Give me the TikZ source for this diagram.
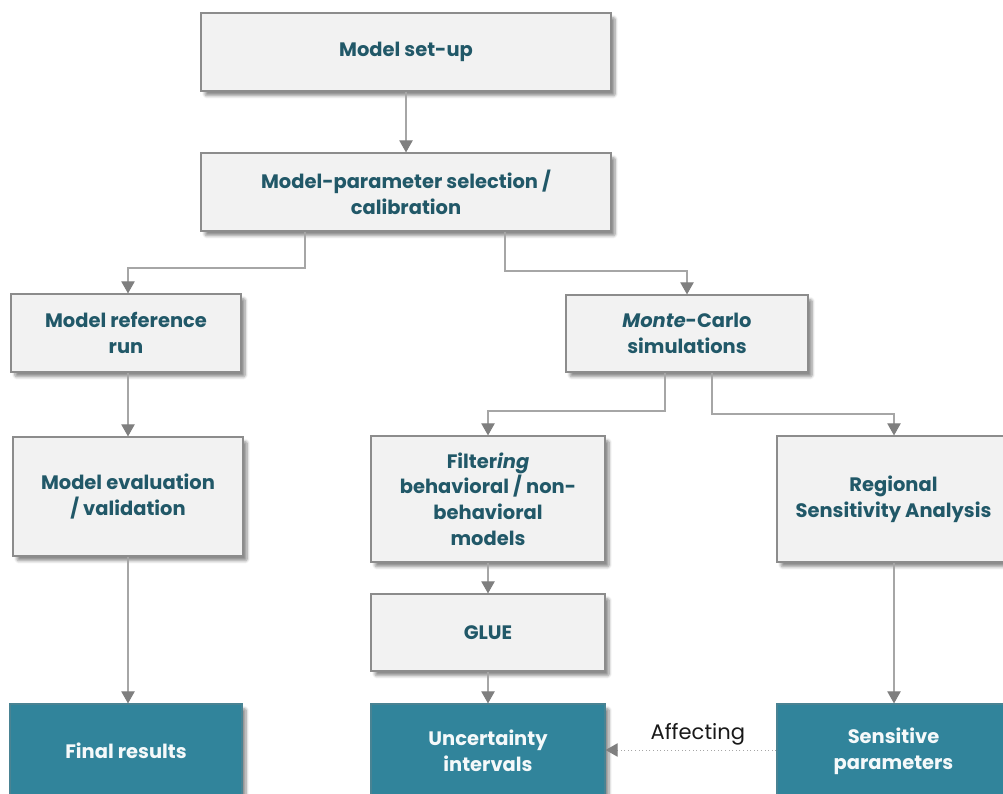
\documentclass[tikz,border=0pt]{standalone}
\usepackage{fontspec}
\setmainfont{Poppins}
\usetikzlibrary{arrows.meta,shadows.blur}
\definecolor{boxfill}{HTML}{F2F2F2}
\definecolor{boxline}{HTML}{8C8C8C}
\definecolor{boxtext}{HTML}{215868}
\definecolor{tealfill}{HTML}{31849B}
\definecolor{linkgray}{HTML}{A6A6A6}
\definecolor{tipgray}{HTML}{7F7F7F}
\tikzset{
  box/.style={draw=boxline, line width=0.9pt, fill=boxfill, align=center,
    inner sep=2pt, font=\fontsize{14.6}{19.3}\selectfont\bfseries, text=boxtext,
    blur shadow={shadow xshift=3pt, shadow yshift=-3.5pt, shadow blur steps=6,
      shadow opacity=45, shadow blur extra rounding=1pt}},
  result/.style={box, fill=tealfill, draw=tealfill!70!gray, text=white!95!tealfill},
  link/.style={draw=linkgray, line width=0.8pt,
    -{Triangle[width=10pt,length=9pt,fill=tipgray,color=tipgray]}},
  affect/.style={draw=linkgray, line width=0.7pt, dotted,
    -{Triangle[width=10pt,length=9pt,fill=tipgray,color=tipgray]}},
  note/.style={font=\fontsize{15.8}{18}\selectfont, text=black!90}
}
\begin{document}
\begin{tikzpicture}[x=0.75pt, y=-0.75pt]
  \useasboundingbox (0,0) rectangle (1003,793);
  \clip (0,0) rectangle (1003,793);

  % process boxes
  \node[box, minimum width=307.5pt, minimum height=58.5pt] (setup) at (406,52) {Model set-up};
  \node[box, minimum width=307.5pt, minimum height=58.5pt] (param) at (406,192)
    {Model-parameter selection /\\calibration};
  \node[box, minimum width=172.5pt, minimum height=58.5pt] (ref) at (126,333)
    {Model reference\\run};
  \node[box, minimum width=181.5pt, minimum height=57.75pt] (mc) at (687,333.5)
    {\textit{Monte}-Carlo\\simulations};
  \node[box, minimum width=172.5pt, minimum height=89.25pt] (eval) at (128,496.5)
    {Model evaluation\\/ validation};
  \node[box, minimum width=175.5pt, minimum height=94.5pt] (filter) at (488,499)
    {Filter\textit{ing}\\behavioral / non-\\behavioral\\models};
  \node[box, minimum width=174.75pt, minimum height=94.5pt] (rsa) at (893.5,499)
    {Regional\\Sensitivity Analysis};
  \node[box, minimum width=175.5pt, minimum height=57.75pt] (glue) at (488,632.5) {GLUE};

  % outcome boxes
  \node[result, minimum width=174pt, minimum height=70.5pt] (final) at (126,751) {Final results};
  \node[result, minimum width=175.5pt, minimum height=70.5pt] (unc) at (488,751)
    {Uncertainty\\intervals};
  \node[result, minimum width=174.75pt, minimum height=70.5pt] (sens) at (893.5,751)
    {Sensitive\\parameters};

  % connectors
  \draw[link] (setup.south) -- (param.north);
  \draw[link] (param.south -| 305,0) |- (128,268) -- (ref.north -| 128,0);
  \draw[link] (param.south -| 505,0) |- (687,271) -- (mc.north);
  \draw[link] (ref.south -| 128,0) -- (eval.north);
  \draw[link] (mc.south -| 665,0) |- (488,411) -- (filter.north);
  \draw[link] (mc.south -| 712,0) |- (894,414) -- (rsa.north -| 894,0);
  \draw[link] (eval.south) -- (final.north -| eval.south);
  \draw[link] (filter.south) -- (glue.north);
  \draw[link] (glue.south) -- (unc.north);
  \draw[link] (rsa.south -| 894,0) -- (sens.north -| 894,0);
  \draw[affect] (sens.west |- 0,750) -- (unc.east |- 0,750)
    node[note, pos=0.46, above=0pt] (aff) {Affecting};
\end{tikzpicture}
\end{document}
